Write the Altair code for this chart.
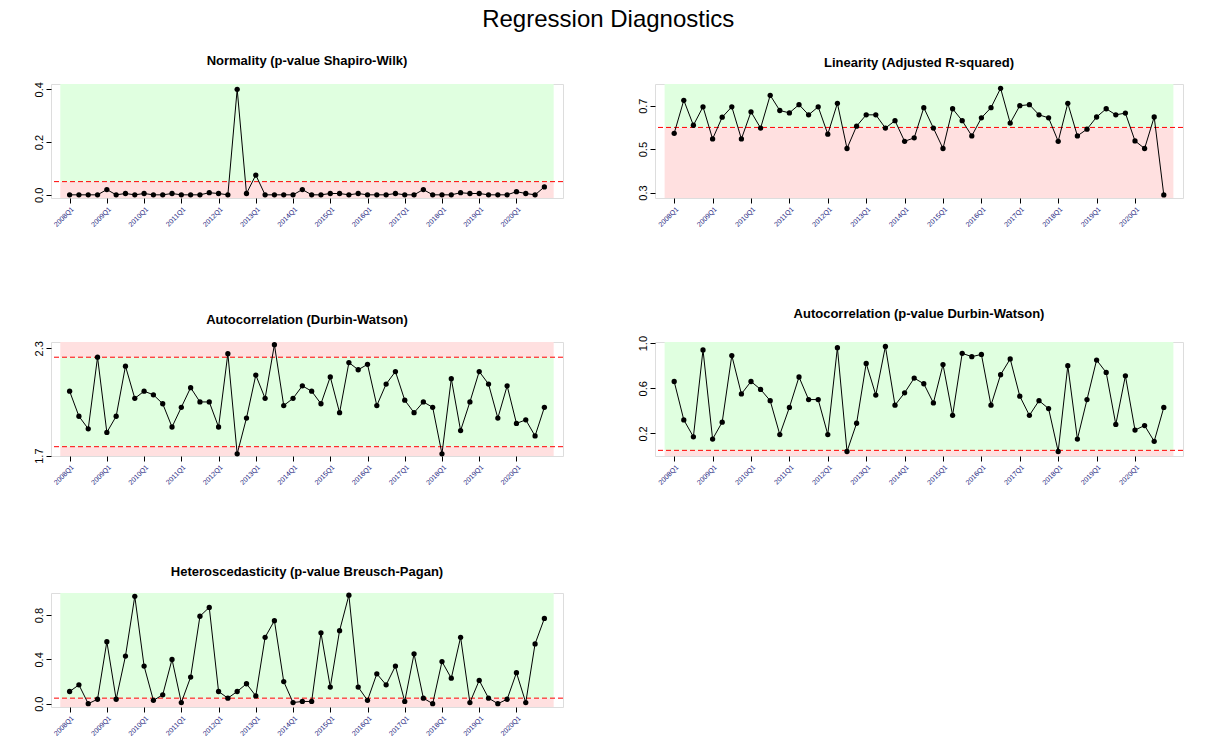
import pandas as pd
import altair as alt

quarters = [f"{y}Q{q}" for y in range(2008, 2021) for q in range(1, 5)]

normality = [0, 0, 0, 0, 0.02, 0, 0.005, 0, 0.005, 0, 0, 0.005, 0, 0, 0, 0.008,
             0.005, 0, 0.40, 0.005, 0.075, 0, 0, 0, 0, 0.02, 0, 0, 0.005, 0.005, 0, 0.005,
             0, 0, 0, 0.005, 0, 0, 0.02, 0, 0, 0, 0.008, 0.005, 0.005, 0, 0, 0,
             0.012, 0.005, 0, 0.03]
linearity = [0.573, 0.725, 0.61, 0.695, 0.547, 0.647, 0.695, 0.547, 0.672, 0.597, 0.748, 0.678,
             0.667, 0.705, 0.658, 0.695, 0.569, 0.711, 0.503, 0.606, 0.658, 0.658, 0.597, 0.631,
             0.536, 0.552, 0.691, 0.597, 0.503, 0.686, 0.631, 0.561, 0.644, 0.691, 0.78, 0.62,
             0.70, 0.705, 0.658, 0.644, 0.536, 0.711, 0.561, 0.592, 0.648, 0.686, 0.658, 0.666,
             0.538, 0.503, 0.648, 0.289]
dw = [2.06, 1.92, 1.85, 2.25, 1.83, 1.92, 2.20, 2.02, 2.06, 2.04, 1.99, 1.86, 1.97, 2.08, 2.00, 2.00,
      1.86, 2.27, 1.71, 1.91, 2.15, 2.02, 2.32, 1.98, 2.02, 2.09, 2.06, 1.99, 2.14, 1.94, 2.22, 2.18,
      2.21, 1.98, 2.10, 2.17, 2.01, 1.94, 2.00, 1.97, 1.71, 2.13, 1.84, 2.00, 2.17, 2.10, 1.91, 2.09,
      1.88, 1.90, 1.81, 1.97]
dw_p = [0.66, 0.32, 0.17, 0.94, 0.15, 0.30, 0.89, 0.55, 0.66, 0.59, 0.49, 0.19, 0.43, 0.70, 0.50, 0.50,
        0.19, 0.96, 0.04, 0.29, 0.82, 0.54, 0.97, 0.45, 0.56, 0.69, 0.64, 0.47, 0.81, 0.36, 0.91, 0.88,
        0.90, 0.45, 0.72, 0.86, 0.53, 0.36, 0.49, 0.42, 0.04, 0.80, 0.15, 0.50, 0.85, 0.74, 0.28, 0.71,
        0.23, 0.27, 0.13, 0.43]
bp = [0.11, 0.17, 0.0, 0.04, 0.56, 0.04, 0.43, 0.97, 0.34, 0.03, 0.08, 0.40, 0.01, 0.24, 0.79, 0.87,
      0.11, 0.05, 0.11, 0.18, 0.07, 0.60, 0.75, 0.20, 0.01, 0.02, 0.02, 0.64, 0.15, 0.66, 0.98, 0.15,
      0.03, 0.27, 0.17, 0.34, 0.02, 0.45, 0.05, 0.0, 0.38, 0.23, 0.60, 0.01, 0.21, 0.05, 0.0, 0.04,
      0.28, 0.01, 0.54, 0.77]

GREEN = "#E0FFE0"
PINK = "#FFE0E0"
tick_idx = list(range(1, 53, 4))
label_expr = "{" + ",".join(f"'{i}':'{quarters[i-1]}'" for i in tick_idx) + "}[datum.value]"


def panel(title, values, domain, ticks, labels, bands, thresholds, width):
    df = pd.DataFrame({"i": range(1, len(values) + 1), "v": values})
    x = alt.X("i:Q", scale=alt.Scale(domain=[-1, 54], nice=False, zero=False),
              axis=alt.Axis(values=tick_idx, labelExpr=label_expr, labelAngle=-45,
                            labelFontSize=7, labelColor="#1a237e", title=None,
                            labelOverlap=False, grid=False, domain=False, tickColor="black"))
    yscale = alt.Scale(domain=domain, nice=False, zero=False)
    lab = "{" + ",".join(f"'{t}':1" for t in labels) + "}[datum.label] ? datum.label : ''"
    y = alt.Y("v:Q", scale=yscale,
              axis=alt.Axis(values=ticks, format=".1f", labelExpr=lab, labelAngle=-90,
                            labelAlign="center", labelBaseline="bottom", labelFontSize=11,
                            labelColor="black", labelOverlap=False, title=None, grid=False,
                            domain=False, tickColor="black"))
    bdf = pd.DataFrame(bands, columns=["y1", "y2", "c"])
    bdf["x1"] = 0
    bdf["x2"] = 53
    rect = alt.Chart(bdf).mark_rect().encode(
        x=alt.X("x1:Q", scale=alt.Scale(domain=[-1, 54], nice=False)), x2="x2:Q",
        y=alt.Y("y1:Q", scale=yscale), y2="y2:Q",
        color=alt.Color("c:N", scale=None))
    tdf = pd.DataFrame({"t": thresholds})
    rule = alt.Chart(tdf).mark_rule(color="red", strokeDash=[5, 3], strokeWidth=1).encode(
        y=alt.Y("t:Q", scale=yscale))
    base = alt.Chart(df).encode(x=x, y=y)
    line = base.mark_line(color="black", strokeWidth=1)
    pts = base.mark_circle(color="black", size=28, opacity=1)
    return alt.layer(rect, rule, line, pts).properties(
        width=width, height=114,
        title=alt.TitleParams(title, fontSize=13, fontWeight="bold", font="Arial", offset=14))


p1 = panel("Normality (p-value Shapiro-Wilk)", normality, [-0.012, 0.42],
           [0, 0.1, 0.2, 0.3, 0.4], ["0.0", "0.2", "0.4"],
           [(-0.012, 0.05, PINK), (0.05, 0.42, GREEN)], [0.05], 512)
p2 = panel("Linearity (Adjusted R-squared)", linearity, [0.275, 0.80],
           [0.3, 0.4, 0.5, 0.6, 0.7], ["0.3", "0.5", "0.7"],
           [(0.275, 0.6, PINK), (0.6, 0.80, GREEN)], [0.6], 528)
p3 = panel("Autocorrelation (Durbin-Watson)", dw, [1.698, 2.335],
           [1.7, 1.8, 1.9, 2.0, 2.1, 2.2, 2.3], ["1.7", "1.9", "2.1", "2.3"],
           [(1.698, 1.75, PINK), (1.75, 2.25, GREEN), (2.25, 2.335, PINK)], [1.75, 2.25], 512)
p4 = panel("Autocorrelation (p-value Durbin-Watson)", dw_p, [0.0, 1.01],
           [0.2, 0.4, 0.6, 0.8, 1.0], ["0.2", "0.6", "1.0"],
           [(0.0, 0.05, PINK), (0.05, 1.01, GREEN)], [0.05], 528)
p5 = panel("Heteroscedasticity (p-value Breusch-Pagan)", bp, [-0.03, 1.0],
           [0, 0.2, 0.4, 0.6, 0.8], ["0.0", "0.4", "0.8"],
           [(-0.03, 0.05, PINK), (0.05, 1.0, GREEN)], [0.05], 512)

chart = alt.vconcat(
    alt.hconcat(p1, p2, spacing=72),
    alt.hconcat(p3, p4, spacing=72),
    p5,
    spacing=78,
).properties(
    title=alt.TitleParams("Regression Diagnostics", fontSize=24, fontWeight="normal",
                          font="Arial", anchor="middle", offset=22),
    padding={"left": 24, "top": 0, "right": 5, "bottom": 5},
).configure_view(stroke="black", strokeWidth=1).configure(font="Arial")

chart.save("out.html", embed_options={"renderer": "svg", "actions": False})
